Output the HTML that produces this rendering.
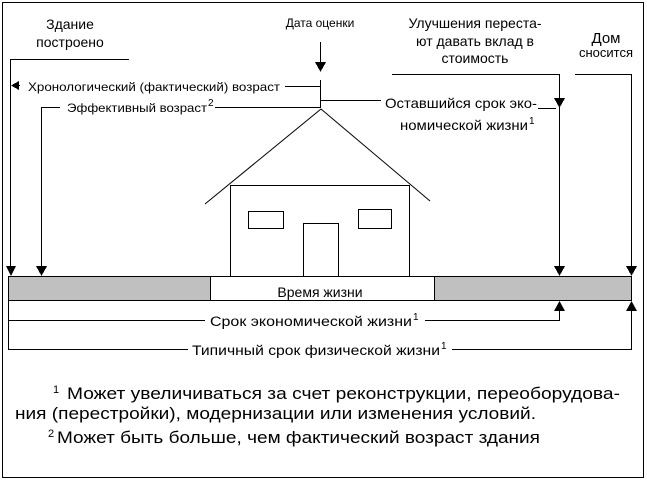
<!DOCTYPE html>
<html><head><meta charset="utf-8"><style>
html,body{margin:0;padding:0;background:#fff}
svg{display:block}
text{font-family:"Liberation Sans",sans-serif;fill:#000}
</style></head><body>
<svg width="647" height="481" viewBox="0 0 647 481" xmlns="http://www.w3.org/2000/svg">
<rect x="2.5" y="2.5" width="641" height="475" fill="#fff" stroke="#000" stroke-width="1"/>
<g stroke="#000" stroke-width="1" fill="none" shape-rendering="crispEdges">
<polyline points="129,59.5 10.5,59.5 10.5,266"/>
<path d="M6,266 L16,266 L11,276 Z" fill="#000" stroke="none"/>
<line x1="14" y1="85.5" x2="20" y2="85.5"/>
<path d="M11,85.5 L19,81 L19,90 Z" fill="#000" stroke="none"/>
<line x1="285" y1="86.5" x2="320" y2="86.5"/>
<polyline points="60,107.5 41.5,107.5 41.5,266"/>
<path d="M36,266 L47,266 L41.5,276 Z" fill="#000" stroke="none"/>
<line x1="215" y1="107.5" x2="320" y2="107.5"/>
<line x1="320.5" y1="42" x2="320.5" y2="62"/>
<path d="M315,62 L326,62 L320.5,72 Z" fill="#000" stroke="none"/>
<line x1="320.5" y1="80" x2="320.5" y2="108"/>
<line x1="320" y1="100.5" x2="381" y2="100.5"/>
<polyline points="392,74.5 559.5,74.5 559.5,266"/>
<path d="M554,98 L565,98 L559.5,108 Z" fill="#000" stroke="none"/>
<path d="M554,266 L565,266 L559.5,276 Z" fill="#000" stroke="none"/>
<line x1="538" y1="108.5" x2="556" y2="108.5"/>
<polyline points="575,74.5 631.5,74.5 631.5,266"/>
<path d="M626,266 L637,266 L631.5,276 Z" fill="#000" stroke="none"/>
<rect x="230.5" y="185.5" width="179" height="91"/>
<rect x="248.5" y="211.5" width="35" height="17"/>
<rect x="358.5" y="209.5" width="33" height="19"/>
<rect x="303.5" y="223.5" width="35" height="53"/>
</g>
<g stroke="#000" stroke-width="1" fill="none">
<polyline points="205,204 321,109 430,201"/>
</g>
<g stroke="#000" stroke-width="1" shape-rendering="crispEdges">
<rect x="8.5" y="276.5" width="623" height="24" fill="#c0c0c0"/>
<rect x="210.5" y="276.5" width="224" height="24" fill="#fff"/>
<polyline points="8.5,300 8.5,349.5 631.5,349.5 631.5,310" fill="none"/>
<polyline points="8.5,320.5 559.5,320.5 559.5,310" fill="none"/>
<line x1="205" y1="320.5" x2="425" y2="320.5" stroke="#fff" stroke-width="3"/>
<line x1="188" y1="349.5" x2="452" y2="349.5" stroke="#fff" stroke-width="3"/>
</g>
<path d="M554,311 L565,311 L559.5,301 Z" fill="#000"/>
<path d="M626,311 L637,311 L631.5,301 Z" fill="#000"/>
<rect x="22" y="78" width="262" height="14" fill="#fff"/>
<rect x="62" y="99" width="152" height="14" fill="#fff"/>
<text x="70" y="29" font-size="14" text-anchor="middle">Здание</text>
<text x="70" y="47" font-size="14" text-anchor="middle">построено</text>
<text x="320" y="27" font-size="12" text-anchor="middle">Дата оценки</text>
<text x="475" y="28" font-size="14" text-anchor="middle">Улучшения переста-</text>
<text x="475" y="46" font-size="14" text-anchor="middle">ют давать вклад в</text>
<text x="475" y="63" font-size="14" text-anchor="middle">стоимость</text>
<text x="606" y="43" font-size="15" text-anchor="middle">Дом</text>
<text x="606" y="57" font-size="13" text-anchor="middle">сносится</text>
<text x="28" y="91" font-size="12" textLength="252" lengthAdjust="spacingAndGlyphs">Хронологический (фактический) возраст</text>
<text x="67" y="112" font-size="12" textLength="140" lengthAdjust="spacingAndGlyphs">Эффективный возраст</text>
<text x="208" y="106" font-size="10">2</text>
<text x="385" y="108" font-size="14" textLength="152" lengthAdjust="spacingAndGlyphs">Оставшийся срок эко-</text>
<text x="400" y="130" font-size="14" textLength="128" lengthAdjust="spacingAndGlyphs">номической жизни</text>
<text x="529" y="124" font-size="10">1</text>
<text x="320" y="297" font-size="14" text-anchor="middle">Время жизни</text>
<text x="210" y="326" font-size="13.5" textLength="202" lengthAdjust="spacingAndGlyphs">Срок экономической жизни</text>
<text x="413" y="320" font-size="10">1</text>
<text x="192" y="355" font-size="13.5" textLength="248" lengthAdjust="spacingAndGlyphs">Типичный срок физической жизни</text>
<text x="441" y="349" font-size="10">1</text>
<text x="53" y="393" font-size="11">1</text>
<text x="67" y="399" font-size="17" textLength="553" lengthAdjust="spacingAndGlyphs">Может увеличиваться за счет реконструкции, переоборудова-</text>
<text x="15" y="419" font-size="17" textLength="521" lengthAdjust="spacingAndGlyphs">ния (перестройки), модернизации или изменения условий.</text>
<text x="48" y="437" font-size="11">2</text>
<text x="57" y="443" font-size="17" textLength="483" lengthAdjust="spacingAndGlyphs">Может быть больше, чем фактический возраст здания</text>
</svg>
</body></html>
